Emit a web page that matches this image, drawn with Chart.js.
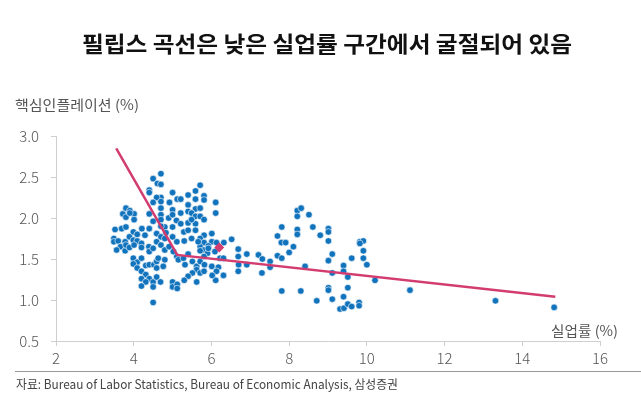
<!DOCTYPE html>
<html>
<head>
<meta charset="utf-8">
<script src="https://cdn.jsdelivr.net/npm/chart.js@4.4.1/dist/chart.umd.min.js"></script>
<style>
  html, body { margin: 0; padding: 0; background: #fff; }
  #wrap { position: relative; width: 641px; height: 399px; overflow: hidden; background: #fff; }
  #c { position: absolute; left: 0; top: 0; }
  .t { position: absolute; white-space: nowrap; font-family: "Noto Sans CJK KR", "Noto Sans", sans-serif; }
  #title { top: 27px; left: 82px; font-size: 22px; font-weight: 700; color: #111; line-height: 30px; transform-origin: 0 50%; }
  #ytitle { top: 94px; left: 15px; font-size: 14px; color: #555; line-height: 20px; transform-origin: 0 50%; }
  #xtitle { top: 320px; left: 551px; font-size: 14px; color: #555; line-height: 20px; transform-origin: 0 50%; }
  #sep { position: absolute; left: 15px; top: 371px; width: 626px; height: 1px; background: #999; }
  #source { top: 375px; left: 16px; font-size: 12.5px; color: #444; line-height: 18px; transform-origin: 0 50%; }
</style>
</head>
<body>
<div id="wrap">
  <canvas id="c" width="641" height="399"></canvas>
  <div class="t" id="title">필립스 곡선은 낮은 실업률 구간에서 굴절되어 있음</div>
  <div class="t" id="ytitle">핵심인플레이션 (%)</div>
  <div class="t" id="xtitle">실업률 (%)</div>
  <div id="sep"></div>
  <div class="t" id="source">자료: Bureau of Labor Statistics, Bureau of Economic Analysis, 삼성증권</div>
</div>
<script>
// Unemployment rate (%) — x values
const unemployment = [
  3.72,3.80,3.90,4.01,3.80,4.01,3.90,3.52,3.69,3.80,3.99,3.89,4.09,3.49,3.49,3.60,3.78,3.99,4.09,3.66,
  3.56,3.78,3.80,3.89,4.01,3.99,4.09,3.99,4.09,
  4.21,4.40,4.29,4.20,4.20,4.39,4.40,4.50,4.20,4.31,4.40,4.52,4.59,4.63,4.80,4.76,4.59,4.20,4.31,4.40,
  4.20,4.31,4.20,4.50,4.50,4.59,4.69,5.00,5.00,5.12,5.12,4.50,
  4.70,4.50,4.61,4.70,4.40,4.40,4.70,4.59,4.50,4.70,5.00,4.92,5.12,4.70,5.00,4.40,4.50,4.70,4.70,4.90,
  5.00,5.10,4.80,5.00,4.83,5.00,4.59,4.70,4.80,4.59,4.70,4.80,4.91,5.02,5.11,4.70,
  5.71,5.59,5.81,5.40,5.21,5.59,5.81,5.40,6.11,6.11,5.59,5.21,5.40,5.49,5.59,5.71,5.71,5.40,5.21,5.59,
  5.49,5.81,5.29,5.40,5.59,5.81,5.71,5.49,6.01,6.01,5.30,5.81,5.71,5.92,5.66,
  5.11,5.15,5.28,5.40,5.51,5.32,5.62,5.71,5.81,5.71,5.90,6.09,5.81,6.22,6.31,5.82,5.62,5.71,6.01,6.18,
  6.31,6.11,6.13,5.51,5.40,5.30,5.62,6.02,5.81,5.92,
  6.52,6.32,6.13,6.69,6.91,6.69,6.70,6.91,6.69,7.21,7.31,7.51,7.51,7.30,
  8.21,8.31,8.21,8.51,7.81,8.21,8.21,8.61,8.80,9.01,9.01,9.01,7.70,7.80,7.91,8.11,8.00,7.70,7.81,9.11,
  9.01,9.40,9.61,9.82,9.91,9.82,9.91,9.91,10.00,8.41,9.11,9.40,9.51,10.21,7.81,8.30,9.01,9.01,9.51,8.71,
  9.11,9.40,9.80,9.80,9.31,9.41,9.51,9.61,11.11,13.31,14.82
];
// Core inflation (%) — y values
const coreInflation = [
  2.05,2.12,2.09,2.05,2.01,1.98,2.06,1.86,1.87,1.89,1.83,1.77,1.80,1.75,1.71,1.72,1.71,1.73,1.72,1.65,
  1.61,1.60,1.67,1.64,1.67,1.51,1.46,1.44,1.39,
  1.87,1.87,1.79,1.69,1.64,1.65,1.59,1.63,1.51,1.42,1.43,1.43,1.47,1.51,1.49,1.41,1.39,1.35,1.31,1.26,
  1.26,1.22,1.17,1.22,1.16,1.28,1.22,1.22,1.16,1.19,1.14,0.97,
  2.54,2.48,2.42,2.41,2.34,2.31,2.25,2.25,2.19,2.20,2.31,2.19,2.23,2.12,2.10,2.05,1.96,2.04,1.98,2.00,
  2.04,1.97,1.89,1.89,1.82,1.77,1.81,1.77,1.75,1.71,1.67,1.61,1.65,1.59,1.71,1.90,
  2.40,2.33,2.27,2.28,2.23,2.23,2.22,2.16,2.19,2.06,2.11,2.06,2.08,2.06,2.02,2.02,2.12,1.94,1.93,1.93,
  1.98,1.98,1.83,1.85,1.85,1.79,1.75,1.75,1.81,1.71,1.72,1.70,1.65,1.66,1.71,
  1.53,1.49,1.51,1.56,1.47,1.43,1.41,1.47,1.61,1.60,1.57,1.59,1.53,1.51,1.51,1.43,1.37,1.33,1.41,1.40,
  1.30,1.24,1.35,1.33,1.29,1.24,1.22,1.30,1.35,1.63,
  1.74,1.70,1.70,1.62,1.56,1.53,1.43,1.43,1.35,1.55,1.50,1.47,1.40,1.33,
  2.09,2.12,2.02,2.04,1.89,1.86,1.80,1.89,1.79,1.87,1.83,1.72,1.78,1.70,1.70,1.65,1.58,1.54,1.51,1.56,
  1.48,1.42,1.51,1.71,1.72,1.69,1.60,1.51,1.43,1.41,1.33,1.35,1.28,1.24,1.11,1.11,1.15,1.12,1.15,0.99,
  1.01,1.04,0.97,0.93,0.89,0.90,0.95,0.92,1.12,0.99,0.91
];
// Piecewise (kinked) fit line
const fitX = [3.55, 5.12, 14.85];
const fitY = [2.85, 1.55, 1.04];
// Highlighted latest observation
const latestX = [6.2];
const latestY = [1.64];

const xTicks = [2, 4, 6, 8, 10, 12, 14, 16];
const yTicks = [0.5, 1.0, 1.5, 2.0, 2.5, 3.0];

const pts = unemployment.map((x, i) => ({ x: x, y: coreInflation[i] }));
const fit = fitX.map((x, i) => ({ x: x, y: fitY[i] }));
const latest = latestX.map((x, i) => ({ x: x, y: latestY[i] }));

const tickFont = { family: '"Noto Sans CJK KR", "Noto Sans", sans-serif', size: 15, weight: '300' };
const axisColor = '#cfcfcf';

new Chart(document.getElementById('c'), {
  type: 'scatter',
  data: {
    datasets: [
      { data: latest, pointStyle: 'rectRot', pointRadius: 5, backgroundColor: '#d23c70', borderColor: '#d23c70', borderWidth: 0, order: 0 },
      { type: 'line', data: fit, borderColor: '#d23c70', borderWidth: 2.5, pointRadius: 0, fill: false, tension: 0, order: 1 },
      { data: pts, pointRadius: 3.3, backgroundColor: '#1273bd', borderColor: '#ffffff', borderWidth: 0.6, order: 2 }
    ]
  },
  options: {
    responsive: false,
    animation: false,
    devicePixelRatio: 1,
    layout: { padding: { left: 0, top: 136, right: 41, bottom: 28 } },
    plugins: { legend: { display: false }, tooltip: { enabled: false } },
    scales: {
      x: {
        type: 'linear', min: 2, max: 16,
        afterBuildTicks: (s) => { s.ticks = xTicks.map(v => ({ value: v })); },
        afterFit: (s) => { s.height = 30; },
        grid: { drawOnChartArea: false, drawTicks: true, tickLength: 5, color: axisColor },
        border: { color: axisColor },
        ticks: { font: tickFont, color: '#555', padding: 3, maxRotation: 0 }
      },
      y: {
        type: 'linear', min: 0.5, max: 3.0,
        afterBuildTicks: (s) => { s.ticks = yTicks.map(v => ({ value: v })); },
        afterFit: (s) => { s.width = 56; },
        grid: { drawOnChartArea: false, drawTicks: true, tickLength: 5, color: axisColor },
        border: { color: axisColor },
        ticks: { font: tickFont, color: '#555', padding: 12, callback: (v) => Number(v).toFixed(1) }
      }
    }
  }
});

function fitWidth(id, w) {
  const el = document.getElementById(id);
  const cw = el.getBoundingClientRect().width;
  if (cw > 0) el.style.transform = 'scaleX(' + (w / cw) + ')';
}
fitWidth('title', 490);
fitWidth('ytitle', 124);
fitWidth('xtitle', 67);
fitWidth('source', 382);
</script>
</body>
</html>
